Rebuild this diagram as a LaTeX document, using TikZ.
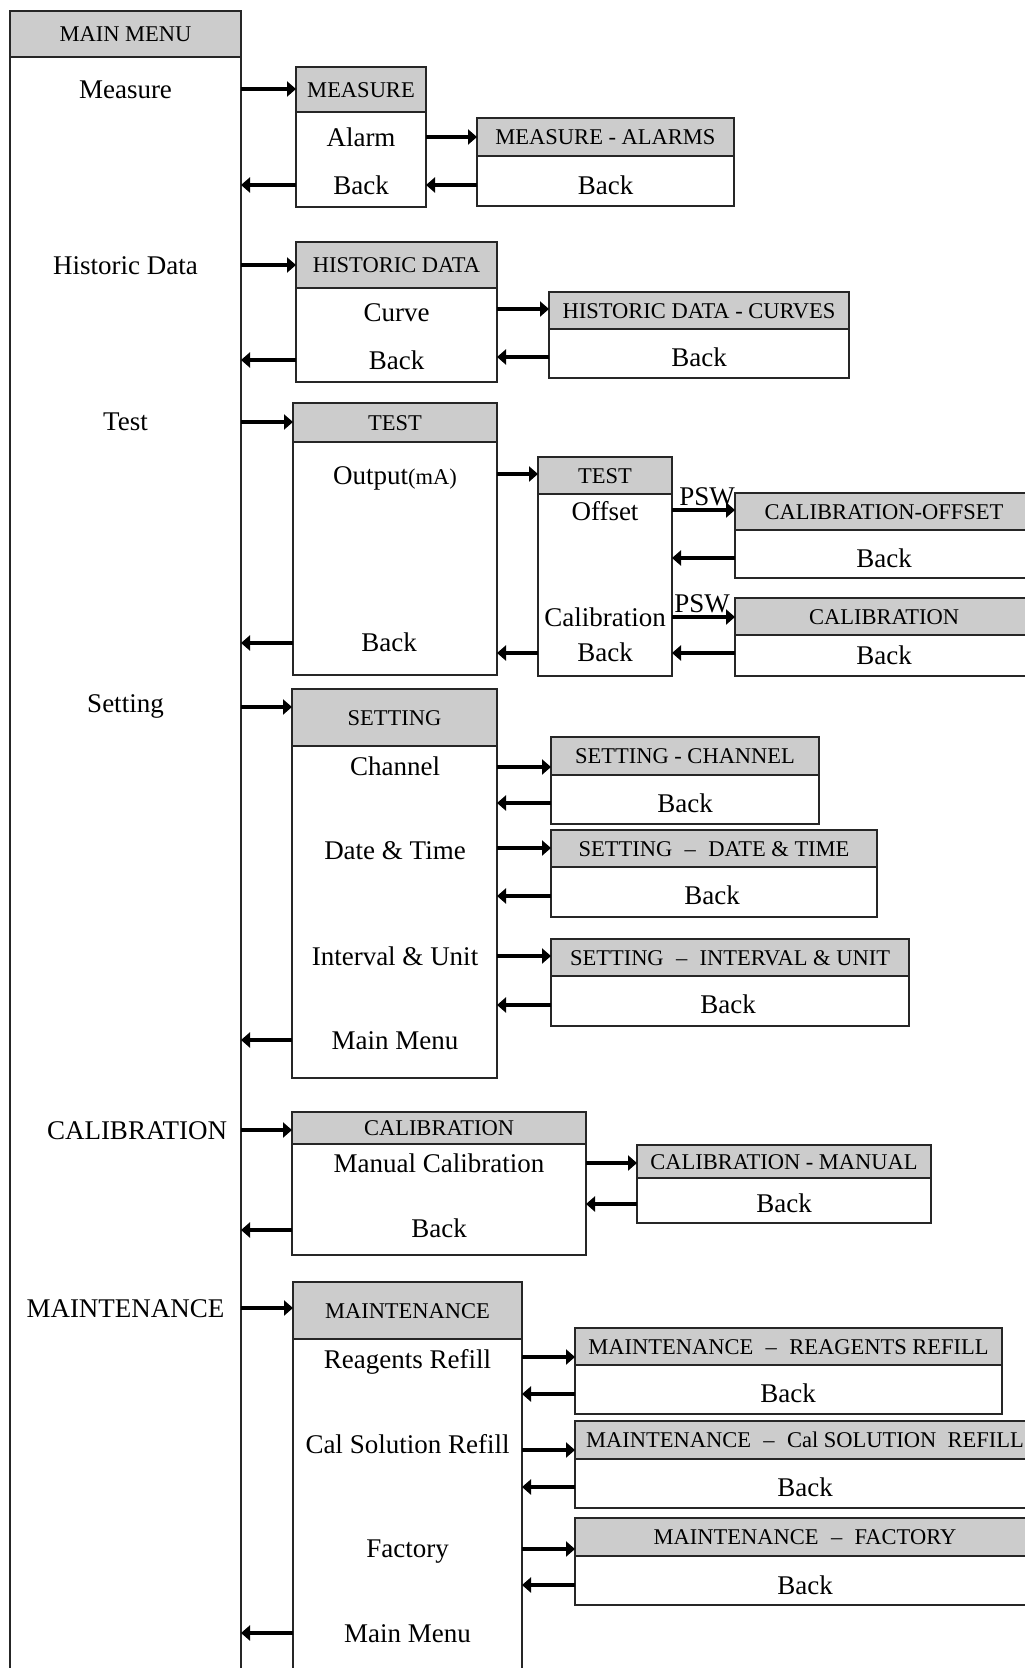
\documentclass[tikz,border=0pt]{standalone}
\usepackage{fontspec}
\setmainfont{Liberation Serif}
\usetikzlibrary{arrows.meta}

\definecolor{hdrgray}{RGB}{204,204,204}
\newcommand{\itemfont}{\fontsize{27}{30}\selectfont}
\newcommand{\hdrfont}{\fontsize{22.5}{26}\selectfont}
\newcommand{\smallfont}{\fontsize{22.5}{26}\selectfont}
\newcommand{\dsep}{\hspace{0.55em}–\hspace{0.55em}}

\tikzset{
  hdrbox/.style={draw=black!85, line width=1.3pt, fill=hdrgray, inner sep=0pt,
    outer sep=0pt, font=\hdrfont, text height=15pt, text depth=0pt},
  bodybox/.style={draw=black!85, line width=1.3pt, fill=white, inner sep=0pt, outer sep=0pt},
  item/.style={anchor=base, yshift=-9pt, inner sep=0pt, font=\itemfont},
  arr/.style={line width=4.5pt, -{Triangle[length=9pt,width=15pt]}},
}

% menu box: name, left, top, right, header bottom, bottom, title
\newcommand{\menubox}[7]{%
  \pgfmathsetmacro{\mbW}{#4-#2}%
  \pgfmathsetmacro{\mbH}{#5-#3}%
  \pgfmathsetmacro{\mbB}{#6-#5}%
  \node[bodybox, anchor=north west, minimum width=\mbW pt, minimum height=\mbB pt] (#1) at (#2,#5) {};
  \node[hdrbox, anchor=north west, minimum width=\mbW pt, minimum height=\mbH pt] (#1-h) at (#2,#3) {#7};
}
% forward connector (east side of #1 to west side of #2) and return connector
\newcommand{\fwd}[3]{\draw[arr] (#1.east |- 0,#3) -- (#2.west |- 0,#3);}
\newcommand{\bck}[3]{\draw[arr] (#1.west |- 0,#3) -- (#2.east |- 0,#3);}

\begin{document}
\begin{tikzpicture}[x=1pt, y=-1pt]
\useasboundingbox (0,0) rectangle (1025,1668);
\clip (0,0) rectangle (1025,1668);
\fill[white] (0,0) rectangle (1025,1668);

% boxes
\menubox{mm}{10}{11}{241}{57}{1700}{MAIN MENU}
\menubox{meas}{296}{67}{426}{112}{207}{MEASURE}
\menubox{measal}{477}{118}{734}{156}{206}{MEASURE - ALARMS}
\menubox{hist}{296}{242}{497}{288}{382}{HISTORIC DATA}
\menubox{histcv}{549}{292}{849}{329}{378}{HISTORIC DATA - CURVES}
\menubox{test}{293}{403}{497}{442}{675}{TEST}
\menubox{testsub}{538}{457}{672}{494}{676}{TEST}
\menubox{caloff}{735}{493}{1033}{530}{578}{CALIBRATION-OFFSET}
\menubox{calt}{735}{598}{1033}{635}{676}{CALIBRATION}
\menubox{set}{292}{689}{497}{746}{1078}{SETTING}
\menubox{setch}{551}{737}{819}{775}{824}{SETTING - CHANNEL}
\menubox{setdt}{551}{830}{877}{867}{917}{SETTING\dsep DATE \& TIME}
\menubox{setiu}{551}{939}{909}{976}{1026}{SETTING\dsep INTERVAL \& UNIT}
\menubox{cal}{292}{1112}{586}{1144}{1255}{CALIBRATION}
\menubox{calman}{637}{1145}{931}{1178}{1223}{CALIBRATION - MANUAL}
\menubox{mnt}{293}{1282}{522}{1339}{1700}{MAINTENANCE}
\menubox{mntrr}{575}{1328}{1002}{1365}{1414}{MAINTENANCE\dsep REAGENTS REFILL}
\menubox{mntcs}{575}{1421}{1035}{1459}{1508}{MAINTENANCE\dsep Cal SOLUTION\ \ REFILL}
\menubox{mntfa}{575}{1518}{1035}{1556}{1605}{MAINTENANCE\dsep FACTORY}

% main menu entries
\node[item] (mmMeasure) at (125.5,89) {Measure};
\node[item] (mmHist) at (125.5,265) {Historic Data};
\node[item] (mmTest) at (125.5,421) {Test};
\node[item] (mmSet) at (125.5,703) {Setting};
\node[item] (mmCal) at (137,1130) {CALIBRATION};
\node[item] (mmMnt) at (125.5,1308) {MAINTENANCE};

% measure
\node[item] (measAlarm) at (361,137) {Alarm};
\node[item] (measBack) at (361,185) {Back};
\node[item] (measalBack) at (605.5,185) {Back};

% historic data
\node[item] (histCurve) at (396.5,312) {Curve};
\node[item] (histBack) at (396.5,360) {Back};
\node[item] (histcvBack) at (699,357) {Back};

% test
\node[item] (testOut) at (395,475) {Output{\smallfont(mA)}};
\node[item] (testBack) at (389,642) {Back};
\node[item] (subOffset) at (605,511) {Offset};
\node[item] (subCal) at (605,617) {Calibration};
\node[item] (subBack) at (605,652) {Back};
\node[item] (caloffBack) at (884,558) {Back};
\node[item] (caltBack) at (884,655) {Back};
\node[item] (psw1) at (707,496) {PSW};
\node[item] (psw2) at (702,603) {PSW};

% setting
\node[item] (setCh) at (395,766) {Channel};
\node[item] (setDt) at (395,850) {Date \& Time};
\node[item] (setIu) at (395,956) {Interval \& Unit};
\node[item] (setMain) at (395,1040) {Main Menu};
\node[item] (setchBack) at (685,803) {Back};
\node[item] (setdtBack) at (712,895) {Back};
\node[item] (setiuBack) at (728,1004) {Back};

% calibration
\node[item] (calMan) at (439,1163) {Manual Calibration};
\node[item] (calBack) at (439,1228) {Back};
\node[item] (calmanBack) at (784,1203) {Back};

% maintenance
\node[item] (mntRr) at (407.5,1359) {Reagents Refill};
\node[item] (mntCs) at (407.5,1444) {Cal Solution Refill};
\node[item] (mntFa) at (407.5,1548) {Factory};
\node[item] (mntMain) at (407.5,1633) {Main Menu};
\node[item] (mntrrBack) at (788,1393) {Back};
\node[item] (mntcsBack) at (805,1487) {Back};
\node[item] (mntfaBack) at (805,1585) {Back};

% connectors
\fwd{mm}{meas}{89} \bck{meas}{mm}{185}
\fwd{meas}{measal}{137} \bck{measal}{meas}{185}
\fwd{mm}{hist}{265} \bck{hist}{mm}{360}
\fwd{hist}{histcv}{309} \bck{histcv}{hist}{357}
\fwd{mm}{test}{422} \bck{test}{mm}{643}
\fwd{test}{testsub}{474} \bck{testsub}{test}{653}
\fwd{testsub}{caloff}{510} \bck{caloff}{testsub}{558}
\fwd{testsub}{calt}{617} \bck{calt}{testsub}{653}
\fwd{mm}{set}{707} \bck{set}{mm}{1040}
\fwd{set}{setch}{767} \bck{setch}{set}{803}
\fwd{set}{setdt}{848} \bck{setdt}{set}{896}
\fwd{set}{setiu}{956} \bck{setiu}{set}{1005}
\fwd{mm}{cal}{1130} \bck{cal}{mm}{1230}
\fwd{cal}{calman}{1163} \bck{calman}{cal}{1204}
\fwd{mm}{mnt}{1308} \bck{mnt}{mm}{1633}
\fwd{mnt}{mntrr}{1357} \bck{mntrr}{mnt}{1394}
\fwd{mnt}{mntcs}{1450} \bck{mntcs}{mnt}{1487}
\fwd{mnt}{mntfa}{1549} \bck{mntfa}{mnt}{1585}
\end{tikzpicture}
\end{document}
